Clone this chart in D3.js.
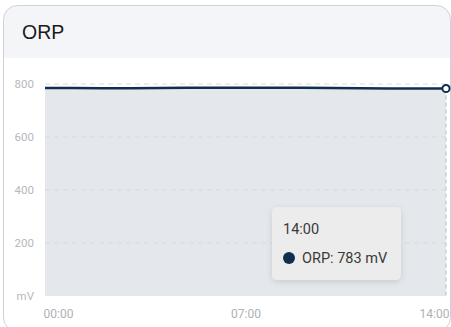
<!DOCTYPE html>
<html>
<head>
<meta charset="utf-8">
<script src="https://cdn.jsdelivr.net/npm/d3@7"></script>
<style>
  html, body { margin: 0; padding: 0; background: #ffffff; }
  svg { display: block; }
</style>
</head>
<body>
<svg id="chart" width="451" height="327"></svg>
<script>
// ORP readings, hourly from 00:00 to 14:00
const hours = ["00:00","01:00","02:00","03:00","04:00","05:00","06:00","07:00",
               "08:00","09:00","10:00","11:00","12:00","13:00","14:00"];
const orpValues = [785, 785, 784, 784, 785, 786, 786, 786, 786, 786, 785, 784, 783, 783, 783];
const yTicks = [0, 200, 400, 600, 800];
const xTickLabels = ["00:00", "07:00", "14:00"];
const seriesName = "ORP";
const unit = "mV";

const svg = d3.select("#chart");

// Card
const card = { x: 3.5, y: 5.5, w: 447, h: 326, r: 14 };
const defs = svg.append("defs");
defs.append("clipPath").attr("id", "cardClip")
  .append("rect").attr("x", card.x).attr("y", card.y)
  .attr("width", card.w).attr("height", card.h).attr("rx", card.r);

svg.append("rect").attr("x", card.x).attr("y", card.y)
  .attr("width", card.w).attr("height", card.h).attr("rx", card.r)
  .attr("fill", "#ffffff");

const inner = svg.append("g").attr("clip-path", "url(#cardClip)");
inner.append("rect").attr("x", card.x).attr("y", card.y)
  .attr("width", card.w).attr("height", 58 - card.y)
  .attr("fill", "#f4f5f9");

svg.append("rect").attr("x", card.x).attr("y", card.y)
  .attr("width", card.w).attr("height", card.h).attr("rx", card.r)
  .attr("fill", "none").attr("stroke", "#cfd1d4").attr("stroke-width", 1);

svg.append("text").attr("x", 22).attr("y", 39)
  .attr("font-family", "Liberation Sans, Arial, sans-serif")
  .attr("font-size", 19.5).attr("fill", "#1a1a1a")
  .text(seriesName);

// Plot
const plot = { left: 45, right: 446, top: 84, bottom: 296 };
const x = d3.scalePoint().domain(hours).range([plot.left, plot.right]);
const y = d3.scaleLinear().domain([0, 800]).range([plot.bottom, plot.top]);

const data = hours.map((h, i) => ({ h, v: orpValues[i] }));

// Area under the line
const area = d3.area().x(d => x(d.h)).y0(y(0)).y1(d => y(d.v));
svg.append("path").datum(data).attr("d", area).attr("fill", "#e4e8ec");

// Dashed gridlines
const grid = svg.append("g");
grid.selectAll("line").data(yTicks.filter(t => t > 0)).join("line")
  .attr("x1", plot.left).attr("x2", plot.right)
  .attr("y1", d => y(d)).attr("y2", d => y(d))
  .attr("stroke", "#d7dbdf").attr("stroke-width", 1)
  .attr("stroke-dasharray", "5,4");

// Y axis labels
const yAxis = d3.axisLeft(y).tickValues(yTicks).tickSize(0).tickPadding(0)
  .tickFormat(d => d === 0 ? unit : d);
const yg = svg.append("g").attr("transform", `translate(${34},0)`).call(yAxis);
yg.select(".domain").remove();
yg.selectAll("text").attr("font-family", "Roboto, sans-serif")
  .attr("font-size", 11.5).attr("fill", "#b5b8bc");

// X axis labels
const xAxis = d3.axisBottom(x).tickValues(xTickLabels).tickSize(0).tickPadding(0);
const xg = svg.append("g").attr("transform", `translate(0,${309})`).call(xAxis);
xg.select(".domain").remove();
xg.selectAll("text").attr("font-family", "Roboto, sans-serif")
  .attr("font-size", 12).attr("fill", "#aeb1b5")
  .attr("text-anchor", (d, i) => i === 0 ? "start" : (i === xTickLabels.length - 1 ? "end" : "middle"))
  .attr("dx", (d, i) => i === 0 ? -2 : (i === xTickLabels.length - 1 ? 3 : 0));

// Hover guide at the last point
const last = data[data.length - 1];
svg.append("line")
  .attr("x1", x(last.h)).attr("x2", x(last.h))
  .attr("y1", y(last.v)).attr("y2", plot.bottom)
  .attr("stroke", "#b9bdc2").attr("stroke-width", 1)
  .attr("stroke-dasharray", "4,3");

// Line
const line = d3.line().x(d => x(d.h)).y(d => y(d.v));
svg.append("path").datum(data).attr("d", line)
  .attr("fill", "none").attr("stroke", "#0e2f50").attr("stroke-width", 2.4);

svg.append("circle").attr("cx", x(last.h)).attr("cy", y(last.v)).attr("r", 3.6)
  .attr("fill", "#ffffff").attr("stroke", "#0e2f50").attr("stroke-width", 2);

// Tooltip
const tip = svg.append("g").attr("transform", "translate(272,207)");
defs.append("filter").attr("id", "tipShadow").attr("x", "-20%").attr("y", "-20%")
  .attr("width", "140%").attr("height", "150%")
  .append("feDropShadow").attr("dx", 0).attr("dy", 2).attr("stdDeviation", 3)
  .attr("flood-color", "#000").attr("flood-opacity", 0.12);
tip.append("rect").attr("width", 129).attr("height", 73).attr("rx", 5)
  .attr("fill", "#ececec").attr("filter", "url(#tipShadow)");
tip.append("text").attr("x", 11).attr("y", 27)
  .attr("font-family", "Roboto, sans-serif").attr("font-size", 14.5)
  .attr("fill", "#3a3a3a").text(last.h);
tip.append("circle").attr("cx", 17).attr("cy", 51).attr("r", 6).attr("fill", "#0e2f50");
tip.append("text").attr("x", 30).attr("y", 56)
  .attr("font-family", "Roboto, sans-serif").attr("font-size", 14.5)
  .attr("fill", "#3a3a3a").text(`${seriesName}: ${last.v} ${unit}`);
</script>
</body>
</html>
